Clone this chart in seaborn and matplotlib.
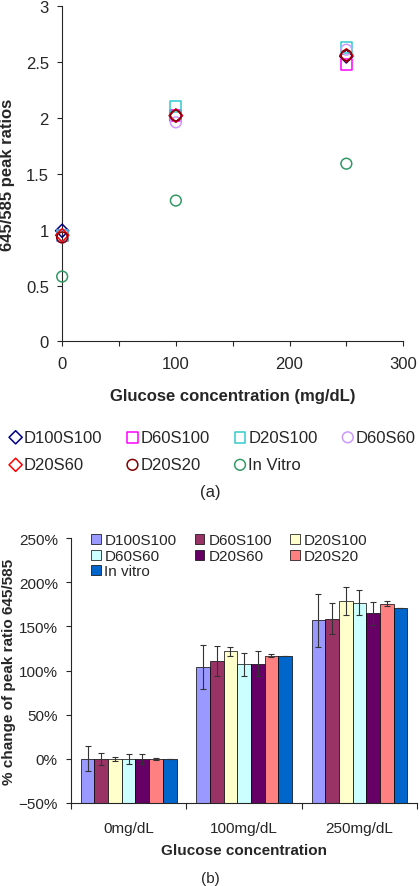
import matplotlib

matplotlib.use('agg')
import matplotlib.pyplot as plt
import pandas as pd
import seaborn as sns
from matplotlib.ticker import MultipleLocator, PercentFormatter

# (a) scatter data
conc = [0, 100, 250]
scatter_names = ['D100S100', 'D60S100', 'D20S100', 'D60S60', 'D20S60', 'D20S20', 'In Vitro']
d100s100 = [0.99, 2.02, 2.55]
d60s100 = [0.95, 2.02, 2.48]
d20s100 = [0.95, 2.10, 2.63]
d60s60 = [0.93, 1.96, 2.61]
d20s60 = [0.95, 2.02, 2.56]
d20s20 = [0.93, 2.02, 2.56]
in_vitro = [0.58, 1.26, 1.59]

# (b) bar data (% change) and errors
groups = ['0mg/dL', '100mg/dL', '250mg/dL']
bar_names = ['D100S100', 'D60S100', 'D20S100', 'D60S60', 'D20S60', 'D20S20', 'In vitro']
pct = {
    'D100S100': [0, 104, 157],
    'D60S100': [0, 111, 159],
    'D20S100': [0, 122, 179],
    'D60S60': [0, 107, 177],
    'D20S60': [0, 108, 165],
    'D20S20': [0, 117, 176],
    'In vitro': [0, 116, 171],
}
err = {
    'D100S100': [14, 25, 30],
    'D60S100': [7, 17, 18],
    'D20S100': [2.5, 5, 16],
    'D60S60': [6, 13, 14],
    'D20S60': [6, 14, 13],
    'D20S20': [1, 2, 3],
    'In vitro': [0, 0, 0],
}

sns.set_style('ticks')
plt.rcParams['font.family'] = ['Liberation Sans', 'DejaVu Sans']

fig = plt.figure(figsize=(4.2, 8.87), dpi=100)

# ---- panel (a) ----
ax1 = fig.add_axes([0.148, 0.614, 0.812, 0.378])
styles = [
    (d100s100, 'D', '#000080'),
    (d60s100, 's', '#FF00FF'),
    (d20s100, 's', '#33CCCC'),
    (d60s60, 'o', '#CC99FF'),
    (d20s60, 'D', '#FF0000'),
    (d20s20, 'o', '#800000'),
    (in_vitro, 'o', '#339966'),
]
for name, (vals, mk, col) in zip(scatter_names, styles):
    sz = 45 if mk == 'D' else 60
    sns.scatterplot(x=conc, y=vals, ax=ax1, marker=mk, s=sz, facecolor='none',
                    edgecolor=col, linewidth=1.1, label=name, clip_on=False, zorder=3)
ax1.set_xlim(0, 300)
ax1.set_ylim(0, 3)
ax1.xaxis.set_major_locator(MultipleLocator(100))
ax1.xaxis.set_minor_locator(MultipleLocator(50))
ax1.set_yticks([0, 0.5, 1, 1.5, 2, 2.5, 3], ['0', '0.5', '1', '1.5', '2', '2.5', '3'])
ax1.tick_params(axis='both', labelsize=12, length=3.5, width=0.8, direction='out')
ax1.tick_params(axis='x', which='minor', length=3.5, width=0.8)
ax1.tick_params(axis='x', pad=7)
ax1.tick_params(axis='y', pad=6)
for s in ['top', 'right']:
    ax1.spines[s].set_visible(False)
for s in ['left', 'bottom']:
    ax1.spines[s].set_linewidth(0.8)
ax1.set_xlabel('Glucose concentration (mg/dL)', fontweight='bold', fontsize=12, labelpad=12)
ax1.set_ylabel('645/585 peak ratios', fontweight='bold', fontsize=12)
ax1.yaxis.set_label_coords(-0.137, 0.5)
h, l = ax1.get_legend_handles_labels()
ax1.get_legend().remove()
order = [0, 4, 1, 5, 2, 6, 3]
fig.legend([h[i] for i in order], [l[i] for i in order], ncol=4, loc='center',
           bbox_to_anchor=(0.507, 0.4905), frameon=False,
           fontsize=12, handlelength=0.7, handletextpad=0.15, columnspacing=1.45,
           labelspacing=0.75, borderaxespad=0, borderpad=0)
fig.text(0.5, 1 - 493 / 887, '(a)', ha='center', va='center', fontsize=12)

# ---- panel (b) ----
ax2 = fig.add_axes([0.169, 0.0936, 0.824, 0.2985])
df = pd.DataFrame([(g, n, pct[n][i]) for n in bar_names for i, g in enumerate(groups)],
                  columns=['group', 'sample', 'value'])
bar_colors = ['#9999FF', '#993366', '#FFFFCC', '#CCFFFF', '#660066', '#FF8080', '#0066CC']
sns.barplot(data=df, x='group', y='value', hue='sample', hue_order=bar_names,
            order=groups, palette=bar_colors, edgecolor='black', linewidth=0.5,
            errorbar=None, width=0.83, saturation=1, ax=ax2)
base = -50
for cont, name in zip(ax2.containers, bar_names):
    # bars hang from the axis floor, like the original spreadsheet chart
    for p in cont.patches:
        top = p.get_y() + p.get_height()
        p.set_y(base)
        p.set_height(top - base)
    xs = [p.get_x() + p.get_width() / 2 for p in cont.patches]
    ax2.errorbar(xs, pct[name], yerr=err[name], fmt='none', ecolor='#333333',
                 elinewidth=0.8, capsize=2, capthick=0.8)
ax2.set_ylim(-50, 250)
ax2.set_xlim(-0.5, 2.5)
ax2.yaxis.set_major_locator(MultipleLocator(50))
ax2.yaxis.set_major_formatter(PercentFormatter(decimals=0))
ax2.set_xticks([-0.5, 0.5, 1.5, 2.5], minor=True)
ax2.tick_params(axis='x', which='major', length=0, pad=13)
ax2.tick_params(axis='x', which='minor', length=4, width=0.8)
ax2.tick_params(axis='both', labelsize=11)
ax2.tick_params(axis='y', length=3.5, width=0.8, pad=6)
for s in ['top', 'right']:
    ax2.spines[s].set_visible(False)
for s in ['left', 'bottom']:
    ax2.spines[s].set_linewidth(0.8)
ax2.set_xlabel('Glucose concentration', fontweight='bold', fontsize=11, labelpad=6)
ax2.set_ylabel('% change of peak ratio 645/585', fontweight='bold', fontsize=11)
ax2.yaxis.set_label_coords(-0.16, 0.5)
hb, lb = ax2.get_legend_handles_labels()
border = [0, 3, 6, 1, 4, 2, 5]
ax2.legend([hb[i] for i in border], [lb[i] for i in border], ncol=3, loc='upper left',
           bbox_to_anchor=(0.058, 1.018), frameon=False,
           fontsize=11, handlelength=0.62, handleheight=0.62, handletextpad=0.26,
           columnspacing=1.2, labelspacing=0.1, borderaxespad=0, borderpad=0)
fig.text(0.5, 1 - 879 / 887, '(b)', ha='center', va='center', fontsize=11)

fig.savefig('out.png', dpi=100)
